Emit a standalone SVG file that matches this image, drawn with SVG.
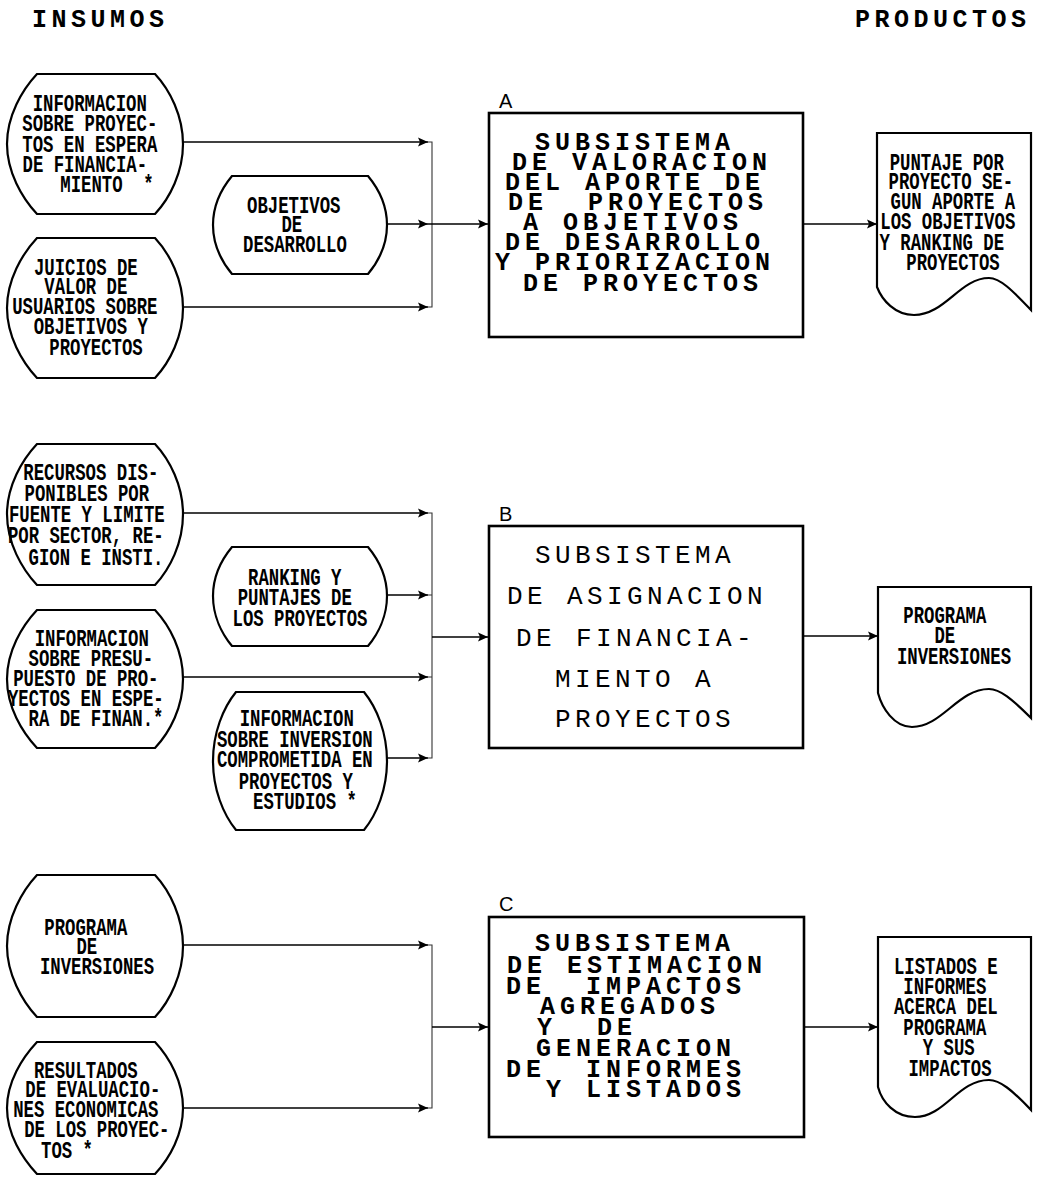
<svg xmlns="http://www.w3.org/2000/svg" width="1039" height="1178" viewBox="0 0 1039 1178">
  <style>
    .shape { fill: #fff; stroke: #000; stroke-width: 2.2; }
    .box { fill: #fff; stroke: #000; stroke-width: 2.6; }
    .wire { fill: none; stroke: #000; stroke-width: 1.6; }
    .bus { fill: none; stroke: #333; stroke-width: 1.1; }
    .t { font-family: "Liberation Mono", "DejaVu Sans Mono", monospace; font-weight: bold; font-size: 17.3px; text-anchor: middle; fill: #000; }
    .bx { font-family: "Liberation Mono", "DejaVu Sans Mono", monospace; font-weight: bold; font-size: 25px; letter-spacing: 5px; text-anchor: middle; fill: #000; }
    .bx2 { font-family: "Liberation Mono", "DejaVu Sans Mono", monospace; font-weight: normal; font-size: 26px; letter-spacing: 4.4px; text-anchor: middle; fill: #000; }
    .h { font-family: "Liberation Mono", "DejaVu Sans Mono", monospace; font-weight: bold; font-size: 25px; letter-spacing: 4.5px; fill: #000; }
    .lbl { font-family: "Liberation Sans", Arial, sans-serif; font-size: 20px; fill: #000; }
  </style>
  <defs>
    <marker id="arrow" markerUnits="userSpaceOnUse" viewBox="0 0 10 10" refX="10" refY="5" markerWidth="10" markerHeight="10" orient="auto">
      <path d="M0,0.5 L10,5 L0,9.5 L2,5 Z" fill="#000"/>
    </marker>
  </defs>

  <rect width="1039" height="1178" fill="#fff"/>

  <!-- column headings -->
  <text class="h" x="32" y="27">INSUMOS</text>
  <text class="h" x="855" y="27">PRODUCTOS</text>

  <!-- connectors -->
  <g id="connectors">
    <!-- subsystem A inputs -->
    <path class="wire" d="M183,142 H428" marker-end="url(#arrow)"/>
    <path class="wire" d="M387,224 H428" marker-end="url(#arrow)"/>
    <path class="wire" d="M183,307 H428" marker-end="url(#arrow)"/>
    <path class="bus" d="M428,142 H432 V307 H428"/>
    <path class="wire" d="M428,224 H488" marker-end="url(#arrow)"/>
    <path class="wire" d="M803,224 H877" marker-end="url(#arrow)"/>
    <!-- subsystem B inputs -->
    <path class="wire" d="M183,513 H428" marker-end="url(#arrow)"/>
    <path class="wire" d="M387,595 H428" marker-end="url(#arrow)"/>
    <path class="wire" d="M183,677 H428" marker-end="url(#arrow)"/>
    <path class="wire" d="M387,758 H428" marker-end="url(#arrow)"/>
    <path class="bus" d="M428,513 H432 V758 H428 M428,595 H432 M428,677 H432"/>
    <path class="wire" d="M432,637 H488" marker-end="url(#arrow)"/>
    <path class="wire" d="M803,636 H878" marker-end="url(#arrow)"/>
    <!-- subsystem C inputs -->
    <path class="wire" d="M183,945 H428" marker-end="url(#arrow)"/>
    <path class="wire" d="M183,1108 H428" marker-end="url(#arrow)"/>
    <path class="bus" d="M428,945 H432 V1108 H428"/>
    <path class="wire" d="M432,1027 H488" marker-end="url(#arrow)"/>
    <path class="wire" d="M804,1027 H878" marker-end="url(#arrow)"/>
  </g>

  <!-- inputs, subsystem A -->
  <g id="in-info-proyectos">
    <path class="shape" d="M37,74 H155 C170,90 183,116 183,144 C183,172 170,198 155,214 H37 C22,198 7,172 7,144 C7,116 22,90 37,74 Z"/>
    <text class="t" transform="translate(0,110.5) scale(1,1.35)">
      <tspan x="95" y="0">INFORMACION</tspan>
      <tspan x="95" y="15.2">SOBRE PROYEC-</tspan>
      <tspan x="95" y="30.4">TOS EN ESPERA</tspan>
      <tspan x="90" y="45.6">DE FINANCIA-</tspan>
      <tspan x="107" y="60.7" xml:space="preserve">MIENTO  *</tspan>
    </text>
  </g>
  <g id="in-objetivos">
    <path class="shape" d="M232,176 H368 C378,188 387,205 387,225 C387,245 378,262 368,274 H232 C222,262 213,245 213,225 C213,205 222,188 232,176 Z"/>
    <text class="t" transform="translate(0,212.5) scale(1,1.35)">
      <tspan x="299" y="0">OBJETIVOS</tspan>
      <tspan x="297" y="14.8">DE</tspan>
      <tspan x="295" y="29.6">DESARROLLO</tspan>
    </text>
  </g>
  <g id="in-juicios">
    <path class="shape" d="M37,238 H155 C170,254 183,280 183,308 C183,336 170,362 155,378 H37 C22,362 7,336 7,308 C7,280 22,254 37,238 Z"/>
    <text class="t" transform="translate(0,274.5) scale(1,1.35)">
      <tspan x="91" y="0">JUICIOS DE</tspan>
      <tspan x="91" y="14.8">VALOR DE</tspan>
      <tspan x="90" y="29.6">USUARIOS SOBRE</tspan>
      <tspan x="96" y="44.4">OBJETIVOS Y</tspan>
      <tspan x="96" y="59.3">PROYECTOS</tspan>
    </text>
  </g>

  <!-- subsystem A -->
  <g id="sub-a">
    <text class="lbl" x="499" y="108">A</text>
    <rect class="box" x="489" y="113" width="314" height="224"/>
    <text class="bx">
      <tspan x="645" y="149.5">SUBSISTEMA</tspan>
      <tspan x="652" y="169.5">DE VALORACION</tspan>
      <tspan x="645" y="189.5">DEL APORTE DE</tspan>
      <tspan x="648" y="209.5" xml:space="preserve">DE  PROYECTOS</tspan>
      <tspan x="643" y="229.5">A OBJETIVOS</tspan>
      <tspan x="645" y="249.5">DE DESARROLLO</tspan>
      <tspan x="645" y="269.5">Y PRIORIZACION</tspan>
      <tspan x="643" y="290.5">DE PROYECTOS</tspan>
    </text>
  </g>
  <g id="out-puntaje">
    <path class="shape" d="M877,133 H1031 V310 C1012,290 1000,278 989,278 C960,278 945,315 914,315 C895,315 882,300 877,287 Z"/>
    <text class="t" transform="translate(0,169.5) scale(1,1.35)">
      <tspan x="952" y="0">PUNTAJE POR</tspan>
      <tspan x="956" y="14.8">PROYECTO SE-</tspan>
      <tspan x="958" y="29.6">GUN APORTE A</tspan>
      <tspan x="953" y="44.4">LOS OBJETIVOS</tspan>
      <tspan x="947" y="59.3">Y RANKING DE</tspan>
      <tspan x="953" y="74.1">PROYECTOS</tspan>
    </text>
  </g>

  <!-- inputs, subsystem B -->
  <g id="in-recursos">
    <path class="shape" d="M37,444 H155 C170,460 183,486 183,514 C183,543 170,569 155,585 H37 C22,569 7,543 7,514 C7,486 22,460 37,444 Z"/>
    <text class="t" transform="translate(0,479.5) scale(1,1.35)">
      <tspan x="96" y="0">RECURSOS DIS-</tspan>
      <tspan x="92" y="15.7">PONIBLES POR</tspan>
      <tspan x="92" y="31.5">FUENTE Y LIMITE</tspan>
      <tspan x="91" y="47.2">POR SECTOR, RE-</tspan>
      <tspan x="96" y="63">GION E INSTI.</tspan>
    </text>
  </g>
  <g id="in-ranking">
    <path class="shape" d="M232,547 H368 C378,559 387,576 387,596 C387,616 378,634 368,646 H232 C222,634 213,616 213,596 C213,576 222,559 232,547 Z"/>
    <text class="t" transform="translate(0,584.5) scale(1,1.35)">
      <tspan x="300" y="0">RANKING Y</tspan>
      <tspan x="300" y="15.2">PUNTAJES DE</tspan>
      <tspan x="300" y="30.4">LOS PROYECTOS</tspan>
    </text>
  </g>
  <g id="in-presupuesto">
    <path class="shape" d="M37,610 H155 C170,626 183,651 183,679 C183,707 170,732 155,748 H37 C22,732 7,707 7,679 C7,651 22,626 37,610 Z"/>
    <text class="t" transform="translate(0,645.5) scale(1,1.35)">
      <tspan x="97" y="0">INFORMACION</tspan>
      <tspan x="96" y="15">SOBRE PRESU-</tspan>
      <tspan x="91" y="30">PUESTO DE PRO-</tspan>
      <tspan x="91" y="45">YECTOS EN ESPE-</tspan>
      <tspan x="96" y="60">RA DE FINAN.*</tspan>
    </text>
  </g>
  <g id="in-inversion">
    <path class="shape" d="M236,692 H364 C377,708 387,733 387,761 C387,789 377,814 364,830 H236 C223,814 213,789 213,761 C213,733 223,708 236,692 Z"/>
    <text class="t" transform="translate(0,725.5) scale(1,1.35)">
      <tspan x="302" y="0">INFORMACION</tspan>
      <tspan x="300" y="15.6">SOBRE INVERSION</tspan>
      <tspan x="300" y="31.1">COMPROMETIDA EN</tspan>
      <tspan x="301" y="46.7">PROYECTOS Y</tspan>
      <tspan x="305" y="62.2">ESTUDIOS *</tspan>
    </text>
  </g>

  <!-- subsystem B -->
  <g id="sub-b">
    <text class="lbl" x="499" y="521">B</text>
    <rect class="box" x="489" y="526" width="314" height="222"/>
    <text class="bx2">
      <tspan x="645" y="562.5">SUBSISTEMA</tspan>
      <tspan x="647" y="603.5">DE ASIGNACION</tspan>
      <tspan x="646" y="645.5">DE FINANCIA-</tspan>
      <tspan x="645" y="686.5">MIENTO A</tspan>
      <tspan x="645" y="726.5">PROYECTOS</tspan>
    </text>
  </g>
  <g id="out-programa">
    <path class="shape" d="M878,587 H1031 V718 C1012,699 1000,689 989,689 C958,689 942,727 912,727 C894,727 882,708 878,693 Z"/>
    <text class="t" transform="translate(0,622.5) scale(1,1.35)">
      <tspan x="950" y="0">PROGRAMA</tspan>
      <tspan x="950" y="15.2">DE</tspan>
      <tspan x="954" y="30.4">INVERSIONES</tspan>
    </text>
  </g>

  <!-- inputs, subsystem C -->
  <g id="in-programa">
    <path class="shape" d="M37,875 H155 C170,891 183,918 183,946 C183,974 170,1001 155,1017 H37 C22,1001 7,974 7,946 C7,918 22,891 37,875 Z"/>
    <text class="t" transform="translate(0,934.5) scale(1,1.35)">
      <tspan x="91" y="0">PROGRAMA</tspan>
      <tspan x="92" y="14.8">DE</tspan>
      <tspan x="97" y="29.6">INVERSIONES</tspan>
    </text>
  </g>
  <g id="in-resultados">
    <path class="shape" d="M37,1042 H155 C170,1058 183,1082 183,1108 C183,1134 170,1158 155,1174 H37 C22,1158 7,1134 7,1108 C7,1082 22,1058 37,1042 Z"/>
    <text class="t" transform="translate(0,1077.5) scale(1,1.35)">
      <tspan x="91" y="0">RESULTADOS</tspan>
      <tspan x="98" y="14.8">DE EVALUACIO-</tspan>
      <tspan x="91" y="29.6">NES ECONOMICAS</tspan>
      <tspan x="102" y="44.4">DE LOS PROYEC-</tspan>
      <tspan x="67" y="59.3">TOS *</tspan>
    </text>
  </g>

  <!-- subsystem C -->
  <g id="sub-c">
    <text class="lbl" x="499" y="911">C</text>
    <rect class="box" x="489" y="917" width="315" height="220"/>
    <text class="bx">
      <tspan x="645" y="950.5">SUBSISTEMA</tspan>
      <tspan x="647" y="972.5">DE ESTIMACION</tspan>
      <tspan x="636" y="993.5" xml:space="preserve">DE  IMPACTOS</tspan>
      <tspan x="640" y="1013.5">AGREGADOS</tspan>
      <tspan x="597" y="1034.5" xml:space="preserve">Y  DE</tspan>
      <tspan x="646" y="1055.5">GENERACION</tspan>
      <tspan x="636" y="1076.5" xml:space="preserve">DE  INFORMES</tspan>
      <tspan x="646" y="1096.5">Y LISTADOS</tspan>
    </text>
  </g>
  <g id="out-listados">
    <path class="shape" d="M878,937 H1031 V1110 C1012,1090 1000,1080 989,1080 C958,1080 945,1117 915,1117 C895,1117 882,1102 878,1087 Z"/>
    <text class="t" transform="translate(0,973.5) scale(1,1.35)">
      <tspan x="951" y="0">LISTADOS E</tspan>
      <tspan x="950" y="15.1">INFORMES</tspan>
      <tspan x="951" y="30.2">ACERCA DEL</tspan>
      <tspan x="950" y="45.3">PROGRAMA</tspan>
      <tspan x="954" y="60.4">Y SUS</tspan>
      <tspan x="950" y="75.6">IMPACTOS</tspan>
    </text>
  </g>
</svg>
